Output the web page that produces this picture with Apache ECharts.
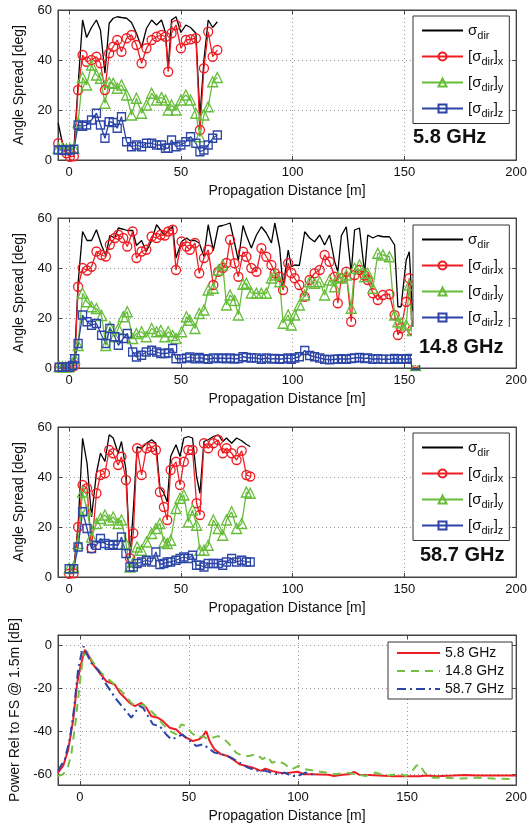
<!DOCTYPE html>
<html><head><meta charset="utf-8">
<script src="https://cdn.jsdelivr.net/npm/echarts@6/dist/echarts.min.js"></script>
<style>html,body{margin:0;padding:0;background:#fff}#c{width:530px;height:827px}</style>
</head><body><div id="c"></div>
<script>
// ---------- 5.8 GHz angle spread ----------
const dist58 = [-4.9,-3,-1.2,0.3,2.1,4,6,7.8,10,12.2,14,16,17.9,19.7,21.5,23.4,25.7,27.9,30.1,32.4,34.6,36.9,39.1,41.3,43.1,44.3,45.8,47.8,50,52.2,54.3,56.7,58.5,60.3,62.2,64.2,66.3];
const sdir58 = [14.7,6.7,4.5,4,4.5,30,56,49,53,56,52,34.7,54.7,56.7,57.3,57,56.7,55,50.7,45,52.7,56,54,56,51,36.7,56,57.3,51,54,53,50.7,17.3,40,56,53,55.3];
const sx58 = [6.7,4,2.7,1.3,1.5,28,42,39.3,40,41.3,38.7,28,42.7,45.3,48,43.3,48.7,50,46,38.7,44.7,48,49.3,50,49.3,35.3,50.7,54,44.7,48,48.3,48.7,12,36.7,51.3,41.3,44];
const sy58 = [4.7,4.5,4.5,4.5,4.7,15,33,30,38,34,32.7,22.7,31,30.7,28.7,30,26,18,24.7,18.7,22,26.7,24,25,24,20,22,20,24,26,24,18.7,9.3,18,21.3,31.3,33];
const sz58 = [4,4,3.8,4,4.3,14,13.5,14,16,18.7,14,8.7,15.3,15,12.7,17.3,7.3,5.3,6,5.3,6.7,6.7,6,6,4.7,4.7,8,5.3,6,7.3,9.3,6.7,3.3,4,6,8.7,10];

// ---------- 14.8 GHz angle spread ----------
const dist148 = [-4.5,-3,-1.5,0,1.5,2.5,4,6,8,10,12.2,14.5,16.4,18.2,20.4,22,24.2,26,28.4,30.1,32.4,34.5,36.9,39.1,41,42.8,44.3,46.3,47.8,50.3,52.5,54,56.3,58.2,60.3,62.2,64.5,66.7,68.7,70.4,72,74,75.7,77.8,79.3,81.5,83.8,86,88.2,90.5,92,94.2,95.7,98,99.4,100.9,103,105.4,107.6,109.8,112.1,114.3,116.5,118.8,120.2,121.8,124,126.2,127.7,129.9,132.2,133.6,135.9,138.1,140.4,143.3,145.6,147.1,148.5,150.8,152.2,153.5,155];
const sdir148 = [0.5,0.5,0.5,0.5,1, 5,34,54.6,51,51, 55.3,49,45,53,52, 56,55.5,55,55,49, 51,46.6,51,57.3,55, 53,55,56.6,44,50.6, 52,51,51,50,44.6, 57.3,47,56.6,57,57.5, 58,50,43,57,53, 48,53.2,56.5,54,50, 58,48,32,47.2,40.5, 41.2,41,54.5,52,50.5, 53.2,49.2,53.2,42.5,38.5, 53,56.5,38,55.2,56, 38,53.2,52,53,52.5, 52.5,49.2,24.5,24.5,43.2, 46.5,24,20];
const sx148 = [0.3,0.3,0.3,0.3,0.5, 1,32.5,40,39,40.5, 46.6,45.2,44.6,49.3,52, 53.3,52,48.6,54.6,44, 46.6,47.3,52.6,52,53.3, 53,54.6,55.3,39.2,50.6, 48.6,47.3,50,37.9,44, 47.3,33.2,38.5,40,42, 51.3,41.9,36.5,46.5,44.5, 40,38.5,47.9,44.5,41.2, 37.9,36.5,31.2,41.9,38, 35.9,33.2,28.5,35.2,37.9, 39.2,45.2,42.5,36.5,25.9, 35.9,38.5,18.5,37.2,39.2, 37,35.2,29.9,27.2,29.2, 29.5,21.2,13.2,15.9,26.5, 35.9,15.2,2];
const sy148 = [0.5,0.5,0.5,0.5,1.5, 3.7,9,29.9,26.5,24.5, 23.8,21,9,16.5,12.5, 15.8,20.5,22.5,11.8,13.8, 14.5,12.5,15.8,14.5,15, 12.5,14.5,13,11.8,14.5, 20.5,19.1,15.8,21.8,23.2, 31.2,31.9,39.2,41.2,25.2, 29.2,27,21.2,33.5,33.9, 30,29.9,29.9,29.9,36, 37.2,34.5,17.9,21.2,17.2, 21.2,25.2,29.2,34.5,33.9, 34.5,29.2,35.2,32.5,36.5, 36,37.2,23.9,39.9,41.2, 36.5,37.9,31.9,45.9,45.2, 44.5,21.2,18.5,18,17.2, 33.2,15,1];
const sz148 = [0.3,0.3,0.3,0.3,1, 3.7,9.8,21.2,18.5,17.1, 17.8,13.1,9.8,15.8,12.5, 9.1,11.8,13.8,6.4,4.4, 5.1,6.4,7.1,6.4,5.8, 5.8,6,7.8,3.7,3.7, 4,4.4,3.7,4.2,3.7, 3.5,4,3.8,4,3.7, 4,3.6,3.8,4.5,4.2, 4,4,3.5,4,3.6, 3.8,3.5,3.7,4,3.5, 4,4.5,7,5,4.5, 4,3.5,3.3,3.5,3.5, 3.7,3.5,3.8,4,4.2, 3.8,4,3.5,3.7,3.5, 3.5,3.8,3.5,3.7,3.5, 3.8,3.5,1];

// ---------- 58.7 GHz angle spread ----------
const dist587 = [0,2,4,6,8,10,12.2,14,16,17.9,19.7,21.9,23.4,25.4,27.2,28.7,30.4,32.4,34.6,36.9,38.8,40.6,42.4,43.9,45.4,47.8,49.6,51.3,53.3,55.2,57,58.5,60.3,62.2,64.5,66.7,68.7,70.4,72.7,74.9,77.2,79.3,81];
const sdir587 = [3,3.3,20.5,55.5,45.5, 24,41.5,49.5,46.2,56.9, 55.6,49.5,54.2,42.8,8, 26.8,52,51.5,53.5,54.9, 53.5,36,33.5,30,48.2, 52.9,48.2,55.6,56.2,55.6, 40.2,33.5,54.2,54.9,56.2, 56.9,54.2,55.6,53.5,55.6, 54.5,53,52.2];
const sx587 = [1.3,1.5,20,36.8,35.5, 11.5,33.5,40.8,41.5,50.8, 49.5,44.8,48.1,38.8,7.5, 17.5,51.5,40.8,51.5,52, 50.8,34,28,22.8,42.8, 46.1,36.8,46.1,50.8,50.8, 29.5,24.8,53.5,51.5,53.5, 54.8,49.5,51.5,49.5,46.8, 50.5,40.8,40.2];
const sy587 = [3.5,4,13.4,34,26.8, 16,21.4,23.4,24.8,22.8, 24,21.4,22.8,13.4,4, 6,12,10.7,14,17.4, 19.4,21.4,14,13.4,14.7, 27.4,31.5,32.8,22,26.8, 20.7,10.7,10.7,12.7,22.8, 19.4,16.7,22.8,26.1,19.4, 21.4,34,33.5];
const sz587 = [3.3,3.3,12,26.1,19.4, 11.4,12.7,15.4,13.4,12.7, 13,12.7,16,9.4,4, 4,5.4,6,6.7,6, 10,5,5.4,6,6, 6.7,7.4,8,7.4,8.7, 4.7,4.7,4,5.4,5.4, 5.4,4.7,6,7.4,6, 6.7,6,6];

// ---------- Power relative to free space ----------
const pwrDist58 = [-10,-7.6,-5.3,-3,-1.2,0.3,2.3,3.8,6.1,9.1,12.2,16,18.3,20.6,22.9,25.2,28.2,30.5,32.8,35.8,38.1,41.2,44.2,46.5,48.8,51.8,54.6,56.4,57.9,59.5,61.7,64.8,67.8,70.1,73.2,76.2,79.3,83.1,85,88,91,94,97,100,102.6,106.5,110.3,114,116.5,120.3,123.4,125.7,128,132.6,137.2,143.4,149.5,155.7,158.8,163.4,171,177,182,189.5,200];
const pwr58 = [-59.2,-56,-48.4,-34.4,-17.4,-9.6,-1.9,-4.2,-8.8,-12.7,-16.6,-18.1,-22,-24.3,-26.7,-28.2,-26.7,-29,-32.9,-33.6,-35.2,-38.3,-39.1,-41.4,-42.9,-44.5,-43.7,-42.2,-39.8,-44.5,-48.4,-50.7,-51.5,-53,-55.3,-56.1,-56.9,-58.4,-57.4,-58.4,-59.2,-59.5,-59.2,-58.8,-60,-60,-60.1,-60.2,-60.8,-60.2,-60,-58.9,-60.2,-60.3,-60.6,-60.9,-60.9,-60.9,-60.6,-60.9,-60.6,-60.3,-60.6,-60.6,-60.6];
const pwrDist148 = [-10,-7.6,-5.3,-3.8,-1.8,0,1.5,3.4,5.3,8.4,12.2,16,19.8,23.6,25.9,29,32,35,38.1,41.2,44.2,46.5,48.8,51.1,54.1,56.4,58.7,61,63.3,65.5,68.6,71.6,74.7,77.7,80.8,83.8,86,88,91,94,97,100.3,103.4,108,112.6,117.2,121.8,126.5,131,135.7,140.3,146.5,149.5,151.8,154.2,155.7,158,161.8,168,174,181.8,189.5,200];
const pwr148 = [-60.8,-60,-56.1,-49.9,-34.4,-17.4,-5,-2.6,-6.5,-11.2,-15,-18.1,-22,-26.7,-28.2,-27.4,-29.8,-32.9,-36.7,-39.8,-41.4,-36.7,-37.5,-40.6,-42.9,-42.2,-43.7,-42.9,-42.2,-42.9,-46,-49.9,-51.5,-51.5,-50.5,-53,-51.5,-54.6,-53.8,-55.3,-57.7,-56.1,-57.7,-58.4,-59.2,-60,-59.2,-60,-60.8,-59.2,-60.8,-59.7,-60.8,-59.2,-56.1,-55.3,-59.2,-61.6,-61.6,-62,-61.6,-62,-62.3];
const pwrDist587 = [-10,-6.9,-4.6,-2.7,-0.8,0.8,1.8,3,5.3,8.4,10.7,13.7,16.8,20.6,23.6,25.2,27.4,29,31.3,33.5,36.6,39.6,41.9,44.2,47,49.5,53.4,56.4,58.7,61.7,65.5,69.4,73.2,77,81.6,85,88,91,94,97,100,103.4,106.5,108];
const pwr587 = [-58.4,-53,-43.7,-29.8,-11.2,-3.4,-0.3,-3.4,-8.1,-11.2,-15.8,-20.5,-25.1,-29.8,-33.6,-31.3,-28.2,-29,-32.9,-36.7,-37.5,-41.4,-43.7,-42.9,-41.4,-43.7,-46.8,-46,-47.6,-49.9,-50.7,-52.2,-54.6,-56.9,-58.4,-58.4,-59.2,-60,-59.2,-60.8,-60.8,-59.2,-60,-60];

// ---------- ticks / labels ----------
const xTicks = [0,50,100,150,200];
const angleTicks = [0,20,40,60];
const pwrTicks = [-60,-40,-20,0];
const bandLabels = ['5.8 GHz','14.8 GHz','58.7 GHz'];
const pwrLegend = ['5.8 GHz','14.8 GHz','58.7 GHz'];

// ---------- build ----------
const F = "'Liberation Sans', Arial, sans-serif";
const RED='#ee1d23', GREEN='#66bd3a', BLUE='#2c45a6', AX='#444', GREEN2='#74c043';
const tops = [10,218,427,635];
const zip = (xs, ys) => xs.map((x,i)=>[x, ys[i]]);
const NOFILL = 'rgba(255,255,255,0)';

const grid = tops.map(t=>({left:58,right:13,top:t,height:150,show:true,borderColor:AX,borderWidth:1,backgroundColor:'#fff'}));
const xAxis=[], yAxis=[];
tops.forEach((t,i)=>{
  const isP = i===3;
  const xmin = isP ? -10 : -5;
  xAxis.push({type:'value',gridIndex:i,position:'bottom',min:xmin,max:200,
    axisLine:{show:true,onZero:false,lineStyle:{color:AX}},
    axisTick:{show:true,inside:true,length:4,customValues:xTicks,lineStyle:{color:AX}},
    axisLabel:{customValues:xTicks,color:'#111',fontSize:13,fontFamily:F,margin:6},
    splitLine:{show:true,lineStyle:{color:'#999',type:[1,3],width:1}},
    name:'Propagation Distance [m]',nameLocation:'middle',nameGap:24,
    nameTextStyle:{fontSize:14,fontFamily:F,color:'#111'}});
  xAxis.push({type:'value',gridIndex:i,position:'top',min:xmin,max:200,
    axisLine:{show:true,onZero:false,lineStyle:{color:AX}},
    axisTick:{show:true,inside:true,length:4,customValues:xTicks,lineStyle:{color:AX}},
    axisLabel:{show:false},splitLine:{show:false}});
  const ymin = isP ? -65 : 0, ymax = isP ? 5 : 60, yt = isP ? pwrTicks : angleTicks;
  yAxis.push({type:'value',gridIndex:i,position:'left',min:ymin,max:ymax,
    axisLine:{show:true,onZero:false,lineStyle:{color:AX}},
    axisTick:{show:true,inside:true,length:4,customValues:yt,lineStyle:{color:AX}},
    axisLabel:{customValues:yt,color:'#111',fontSize:13,fontFamily:F,margin:6},
    splitLine:{show:true,lineStyle:{color:'#999',type:[1,3],width:1}},
    name: isP ? 'Power Rel to FS @ 1.5m [dB]' : 'Angle Spread [deg]',
    nameLocation:'middle',nameGap: isP ? 36 : 24,
    nameTextStyle:{fontSize:14,fontFamily:F,color:'#111'}});
  yAxis.push({type:'value',gridIndex:i,position:'right',min:ymin,max:ymax,
    axisLine:{show:true,onZero:false,lineStyle:{color:AX}},
    axisTick:{show:true,inside:true,length:4,customValues:yt,lineStyle:{color:AX}},
    axisLabel:{show:false},splitLine:{show:false}});
});

const angleSets = [
  [dist58, sdir58, sx58, sy58, sz58],
  [dist148, sdir148, sx148, sy148, sz148],
  [dist587, sdir587, sx587, sy587, sz587]
];
const series = [];
const hollow = c => ({color:NOFILL,borderColor:c,borderWidth:1.3});
const plain = {symbol:'circle',showSymbol:false,itemStyle:{color:NOFILL,borderWidth:0}};
angleSets.forEach((s,i)=>{
  const [d, a, bx, by, bz] = s;
  const ax = {xAxisIndex:2*i, yAxisIndex:2*i};
  series.push({name:'sdir',type:'line',...ax,data:zip(d,a),...plain,color:'#000',lineStyle:{color:'#000',width:1.3}});
  series.push({name:'sx',type:'line',...ax,data:zip(d,bx),symbol:'circle',symbolSize:9,color:RED,itemStyle:hollow(RED),lineStyle:{color:RED,width:1.3}});
  series.push({name:'sy',type:'line',...ax,data:zip(d,by),symbol:'triangle',symbolSize:10,color:GREEN,itemStyle:hollow(GREEN),lineStyle:{color:GREEN,width:1.3}});
  series.push({name:'sz',type:'line',...ax,data:zip(d,bz),symbol:'rect',symbolSize:8,color:BLUE,itemStyle:hollow(BLUE),lineStyle:{color:BLUE,width:1.3}});
});
const pax = {xAxisIndex:6, yAxisIndex:6};
series.push({name:pwrLegend[0],type:'line',...pax,data:zip(pwrDist58,pwr58),...plain,color:RED,lineStyle:{color:RED,width:2}});
series.push({name:pwrLegend[1],type:'line',...pax,data:zip(pwrDist148,pwr148),...plain,color:GREEN2,lineStyle:{color:GREEN2,width:2,type:[8,6]}});
series.push({name:pwrLegend[2],type:'line',...pax,data:zip(pwrDist587,pwr587),...plain,color:BLUE,lineStyle:{color:BLUE,width:2,type:[9,4,2,4]}});

const fmt = {sdir:'{t|σ}{s|dir}', sx:'{t|[σ}{s|dir}{t|]}{s|x}', sy:'{t|[σ}{s|dir}{t|]}{s|y}', sz:'{t|[σ}{s|dir}{t|]}{s|z}'};
const rich = {t:{fontSize:15,fontFamily:F,color:'#111',lineHeight:22,verticalAlign:'middle'},
              s:{fontSize:11,fontFamily:F,color:'#111',lineHeight:22,verticalAlign:'bottom'}};
const legTops = [16,225,433];
const legend = legTops.map(t=>({left:413,top:t,orient:'vertical',selectedMode:false,
  data:['sdir','sx','sy','sz'],itemWidth:41,itemHeight:10,itemGap:7.5,padding:[7,6,4,8],
  backgroundColor:'#fff',borderColor:'#333',borderWidth:1,
  formatter:n=>fmt[n],textStyle:{rich}}));
legend.push({left:388,top:642,orient:'vertical',selectedMode:false,data:pwrLegend,
  itemWidth:43,itemHeight:8,itemGap:2,padding:[3,8,2,8],backgroundColor:'#fff',borderColor:'#333',borderWidth:1,
  textStyle:{fontSize:14,fontFamily:F,color:'#111',lineHeight:16}});

const labelY = [137,347,555], labelX = [413,419,420];
const graphic = [{type:'rect',shape:{x:412,y:327,width:98,height:38},style:{fill:'#fff'},z:100}];
bandLabels.forEach((b,i)=>graphic.push({type:'text',x:labelX[i],y:labelY[i],z:101,
  style:{text:b,font:"bold 20px 'Liberation Sans', Arial",fill:'#111',verticalAlign:'middle'}}));

const chart = echarts.init(document.getElementById('c'),null,{renderer:'canvas'});
chart.setOption({animation:false,backgroundColor:'#fff',grid,xAxis,yAxis,series,legend,graphic});
</script></body></html>
